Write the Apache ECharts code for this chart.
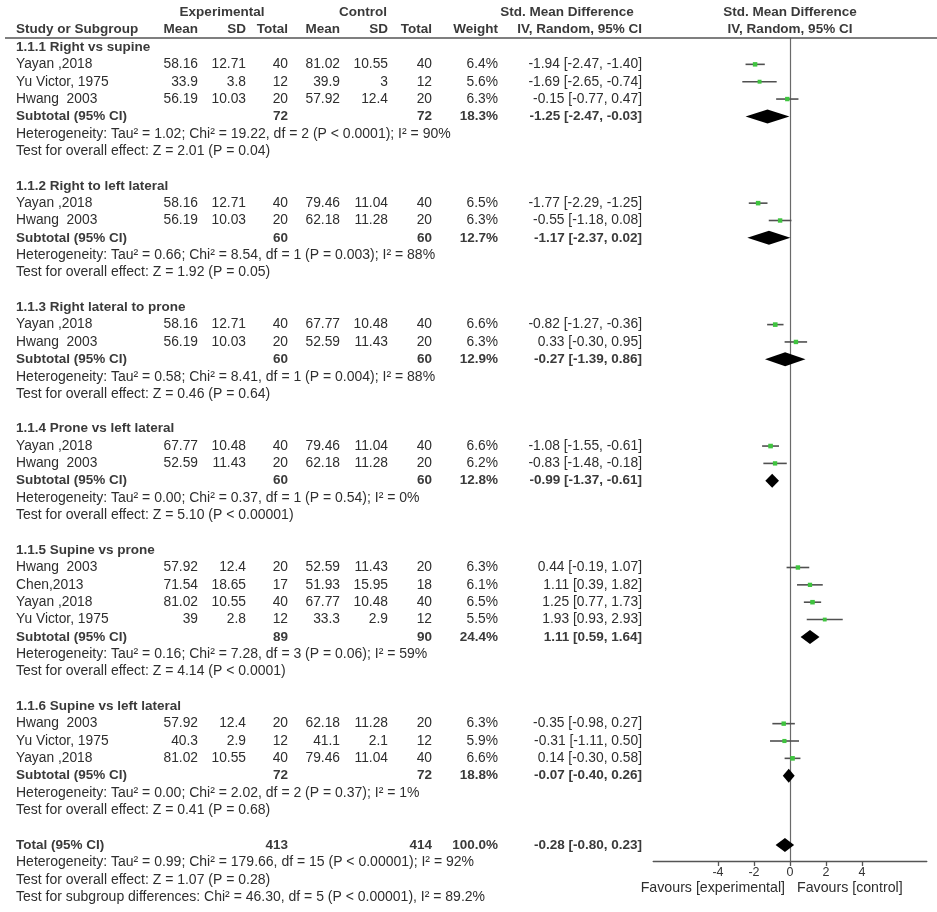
<!DOCTYPE html>
<html><head><meta charset="utf-8">
<script src="https://cdn.jsdelivr.net/npm/echarts@6/dist/echarts.min.js"></script>
<style>html,body{margin:0;padding:0;background:#fff}#c{width:937px;height:912px}</style>
</head><body><div id="c"></div>
<script>
// ---------------- DATA ----------------
const groupTitles = ['1.1.1 Right vs supine', '1.1.2 Right to left lateral', '1.1.3 Right lateral to prone',
  '1.1.4 Prone vs left lateral', '1.1.5 Supine vs prone', '1.1.6 Supine vs left lateral'];
const studyGroup = [0,0,0, 1,1, 2,2, 3,3, 4,4,4,4, 5,5,5];
const studyNames = ['Yayan ,2018','Yu Victor, 1975','Hwang  2003',
  'Yayan ,2018','Hwang  2003',
  'Yayan ,2018','Hwang  2003',
  'Yayan ,2018','Hwang  2003',
  'Hwang  2003','Chen,2013','Yayan ,2018','Yu Victor, 1975',
  'Hwang  2003','Yu Victor, 1975','Yayan ,2018'];
const expMean = [58.16,33.9,56.19, 58.16,56.19, 58.16,56.19, 67.77,52.59, 57.92,71.54,81.02,39, 57.92,40.3,81.02];
const expSD   = [12.71,3.8,10.03, 12.71,10.03, 12.71,10.03, 10.48,11.43, 12.4,18.65,10.55,2.8, 12.4,2.9,10.55];
const expN    = [40,12,20, 40,20, 40,20, 40,20, 20,17,40,12, 20,12,40];
const ctlMean = [81.02,39.9,57.92, 79.46,62.18, 67.77,52.59, 79.46,62.18, 52.59,51.93,67.77,33.3, 62.18,41.1,79.46];
const ctlSD   = [10.55,3,12.4, 11.04,11.28, 10.48,11.43, 11.04,11.28, 11.43,15.95,10.48,2.9, 11.28,2.1,11.04];
const ctlN    = [40,12,20, 40,20, 40,20, 40,20, 20,18,40,12, 20,12,40];
const weights = [6.4,5.6,6.3, 6.5,6.3, 6.6,6.3, 6.6,6.2, 6.3,6.1,6.5,5.5, 6.3,5.9,6.6];
const smd     = [-1.94,-1.69,-0.15, -1.77,-0.55, -0.82,0.33, -1.08,-0.83, 0.44,1.11,1.25,1.93, -0.35,-0.31,0.14];
const ciLow   = [-2.47,-2.65,-0.77, -2.29,-1.18, -1.27,-0.30, -1.55,-1.48, -0.19,0.39,0.77,0.93, -0.98,-1.11,-0.30];
const ciHigh  = [-1.40,-0.74,0.47, -1.25,0.08, -0.36,0.95, -0.61,-0.18, 1.07,1.82,1.73,2.93, 0.27,0.50,0.58];

const subExpN   = [72,60,60,60,89,72];
const subCtlN   = [72,60,60,60,90,72];
const subWeight = [18.3,12.7,12.9,12.8,24.4,18.8];
const subSmd    = [-1.25,-1.17,-0.27,-0.99,1.11,-0.07];
const subLow    = [-2.47,-2.37,-1.39,-1.37,0.59,-0.40];
const subHigh   = [-0.03,0.02,0.86,-0.61,1.64,0.26];
const hetTau = ['1.02','0.66','0.58','0.00','0.16','0.00'];
const hetChi = ['19.22','8.54','8.41','0.37','7.28','2.02'];
const hetDf  = [2,1,1,1,3,2];
const hetP   = ['< 0.0001','= 0.003','= 0.004','= 0.54','= 0.06','= 0.37'];
const hetI2  = ['90','88','88','0','59','1'];
const effZ   = ['2.01','1.92','0.46','5.10','4.14','0.41'];
const effP   = ['= 0.04','= 0.05','= 0.64','< 0.00001','< 0.0001','= 0.68'];

const totExpN = 413, totCtlN = 414, totWeight = 100.0;
const totSmd = -0.28, totLow = -0.80, totHigh = 0.23;
const totHet = 'Heterogeneity: Tau² = 0.99; Chi² = 179.66, df = 15 (P < 0.00001); I² = 92%';
const totEff = 'Test for overall effect: Z = 1.07 (P = 0.28)';
const totSub = 'Test for subgroup differences: Chi² = 46.30, df = 5 (P < 0.00001), I² = 89.2%';

const xTicks = [-4, -2, 0, 2, 4];

// ---------------- LAYOUT / STYLE ----------------
const FONT = "'Liberation Sans', Arial, sans-serif";
const ROW_H = 17.35, ROW0_Y = 47;
const COL = {name:16, expMean:198, expSD:246, expN:288, ctlMean:340, ctlSD:388, ctlN:432, weight:498, ci:642,
  expHead:222, ctlHead:363, smdHead:567, plotHead:790, favL:785, favR:797};
const SZ_MAIN = 13.8, SZ_BOLD = 13.5, SZ_SMALL = 14, SZ_FAV = 14.2;
const C_TXT = '#2e2e2e', C_BOLD = '#3a3a3a';

const fmt2 = v => v.toFixed(2);
const ciStr = (e,l,h) => `${fmt2(e)} [${fmt2(l)}, ${fmt2(h)}]`;

const texts = [];
function T(x, row, text, align, bold, size) {
  texts.push({x, row, text: String(text), align, bold: !!bold, size: size || (bold ? SZ_BOLD : SZ_MAIN)});
}

// headers
T(COL.expHead, -2, 'Experimental', 'center', true);
T(COL.ctlHead, -2, 'Control', 'center', true);
T(COL.smdHead, -2, 'Std. Mean Difference', 'center', true);
T(COL.plotHead, -2, 'Std. Mean Difference', 'center', true);
T(COL.name, -1, 'Study or Subgroup', 'left', true);
T(COL.expMean, -1, 'Mean', 'right', true);
T(COL.expSD, -1, 'SD', 'right', true);
T(COL.expN, -1, 'Total', 'right', true);
T(COL.ctlMean, -1, 'Mean', 'right', true);
T(COL.ctlSD, -1, 'SD', 'right', true);
T(COL.ctlN, -1, 'Total', 'right', true);
T(COL.weight, -1, 'Weight', 'right', true);
T(COL.ci, -1, 'IV, Random, 95% CI', 'right', true);
T(COL.plotHead, -1, 'IV, Random, 95% CI', 'center', true);

const studyPts = [], diamonds = [];
let row = 0;
groupTitles.forEach((g, gi) => {
  T(COL.name, row, g, 'left', true); row++;
  studyNames.forEach((n, i) => {
    if (studyGroup[i] !== gi) return;
    T(COL.name, row, n, 'left');
    T(COL.expMean, row, expMean[i], 'right');
    T(COL.expSD, row, expSD[i], 'right');
    T(COL.expN, row, expN[i], 'right');
    T(COL.ctlMean, row, ctlMean[i], 'right');
    T(COL.ctlSD, row, ctlSD[i], 'right');
    T(COL.ctlN, row, ctlN[i], 'right');
    T(COL.weight, row, weights[i].toFixed(1) + '%', 'right');
    T(COL.ci, row, ciStr(smd[i], ciLow[i], ciHigh[i]), 'right');
    studyPts.push([ciLow[i], ciHigh[i], smd[i], row, weights[i]]);
    row++;
  });
  T(COL.name, row, 'Subtotal (95% CI)', 'left', true);
  T(COL.expN, row, subExpN[gi], 'right', true);
  T(COL.ctlN, row, subCtlN[gi], 'right', true);
  T(COL.weight, row, subWeight[gi].toFixed(1) + '%', 'right', true);
  T(COL.ci, row, ciStr(subSmd[gi], subLow[gi], subHigh[gi]), 'right', true);
  diamonds.push([subLow[gi], subHigh[gi], subSmd[gi], row]);
  row++;
  T(COL.name, row, `Heterogeneity: Tau² = ${hetTau[gi]}; Chi² = ${hetChi[gi]}, df = ${hetDf[gi]} (P ${hetP[gi]}); I² = ${hetI2[gi]}%`, 'left', false, SZ_SMALL); row++;
  T(COL.name, row, `Test for overall effect: Z = ${effZ[gi]} (P ${effP[gi]})`, 'left', false, SZ_SMALL); row++;
  row++;
});
T(COL.name, row, 'Total (95% CI)', 'left', true);
T(COL.expN, row, totExpN, 'right', true);
T(COL.ctlN, row, totCtlN, 'right', true);
T(COL.weight, row, totWeight.toFixed(1) + '%', 'right', true);
T(COL.ci, row, ciStr(totSmd, totLow, totHigh), 'right', true);
diamonds.push([totLow, totHigh, totSmd, row]);
row++;
T(COL.name, row, totHet, 'left', false, SZ_SMALL); row++;
T(COL.name, row, totEff, 'left', false, SZ_SMALL); row++;
T(COL.name, row, totSub, 'left', false, SZ_SMALL);
const favRow = 48.47;
T(COL.favL, favRow, 'Favours [experimental]', 'right', false, SZ_FAV);
T(COL.favR, favRow, 'Favours [control]', 'left', false, SZ_FAV);

const tableYMin = -2.5, tableYMax = 49.5;
const plotYMin = -0.52, plotYMax = (861 - ROW0_Y) / ROW_H;
const XMIN = -7.6, XMAX = 7.6;

const chart = echarts.init(document.getElementById('c'), null, {renderer: 'canvas'});
chart.setOption({
  animation: false,
  backgroundColor: '#fff',
  grid: [
    {left: 0, right: 0, top: ROW0_Y + tableYMin * ROW_H, height: (tableYMax - tableYMin) * ROW_H},
    {left: 790 + XMIN * 18, width: (XMAX - XMIN) * 18, top: ROW0_Y + plotYMin * ROW_H, height: (plotYMax - plotYMin) * ROW_H}
  ],
  xAxis: [
    {gridIndex: 0, type: 'value', min: 0, max: 937, show: false},
    {gridIndex: 1, type: 'value', min: XMIN, max: XMAX, position: 'bottom',
     axisLine: {show: true, onZero: false, lineStyle: {color: '#555', width: 1.3}},
     axisTick: {show: true, customValues: xTicks, length: 5, lineStyle: {color: '#555', width: 1.3}},
     axisLabel: {show: true, customValues: xTicks, fontSize: 12.5, fontFamily: FONT, color: '#333', margin: 5},
     splitLine: {show: false}}
  ],
  yAxis: [
    {gridIndex: 0, type: 'value', inverse: true, min: tableYMin, max: tableYMax, show: false},
    {gridIndex: 1, type: 'value', inverse: true, min: plotYMin, max: plotYMax,
     axisLine: {show: true, onZero: true, lineStyle: {color: '#6a6a6a', width: 1.2}},
     axisTick: {show: false}, axisLabel: {show: false}, splitLine: {show: false}}
  ],
  series: [
    { type: 'custom', xAxisIndex: 0, yAxisIndex: 0, silent: true, clip: false,
      data: [[5, 937, -0.52]],
      renderItem: (p, api) => {
        const a = api.coord([api.value(0), api.value(2)]), b = api.coord([api.value(1), api.value(2)]);
        return {type: 'line', shape: {x1: a[0], y1: a[1], x2: b[0], y2: b[1]}, style: {stroke: '#555', lineWidth: 1.5}};
      }},
    { type: 'custom', xAxisIndex: 0, yAxisIndex: 0, silent: true, clip: false,
      data: texts.map((t, i) => [t.x, t.row, i]),
      renderItem: (p, api) => {
        const t = texts[api.value(2)];
        const c = api.coord([api.value(0), api.value(1)]);
        return {type: 'text', x: c[0], y: c[1], style: {
          text: t.text, align: t.align, verticalAlign: 'middle',
          fontSize: t.size, fontWeight: t.bold ? 'bold' : 'normal', fontFamily: FONT,
          fill: t.bold ? C_BOLD : C_TXT}};
      }},
    { type: 'custom', xAxisIndex: 1, yAxisIndex: 1, silent: true, clip: false,
      data: studyPts, encode: {x: [0, 1, 2], y: 3},
      renderItem: (p, api) => {
        const a = api.coord([api.value(0), api.value(3)]);
        const b = api.coord([api.value(1), api.value(3)]);
        const m = api.coord([api.value(2), api.value(3)]);
        const s = api.value(4) * 0.7;
        return {type: 'group', children: [
          {type: 'line', shape: {x1: a[0], y1: a[1], x2: b[0], y2: b[1]}, style: {stroke: '#505050', lineWidth: 1.6}},
          {type: 'rect', shape: {x: m[0] - s / 2, y: m[1] - s / 2, width: s, height: s}, style: {fill: '#3fc43f'}}
        ]};
      }},
    { type: 'custom', xAxisIndex: 1, yAxisIndex: 1, silent: true, clip: false,
      data: diamonds, encode: {x: [0, 1, 2], y: 3},
      renderItem: (p, api) => {
        const a = api.coord([api.value(0), api.value(3)]);
        const b = api.coord([api.value(1), api.value(3)]);
        const m = api.coord([api.value(2), api.value(3)]);
        const h = 7;
        return {type: 'polygon', shape: {points: [[a[0], m[1]], [m[0], m[1] - h], [b[0], m[1]], [m[0], m[1] + h]]},
          style: {fill: '#000'}};
      }}
  ]
});
</script></body></html>
